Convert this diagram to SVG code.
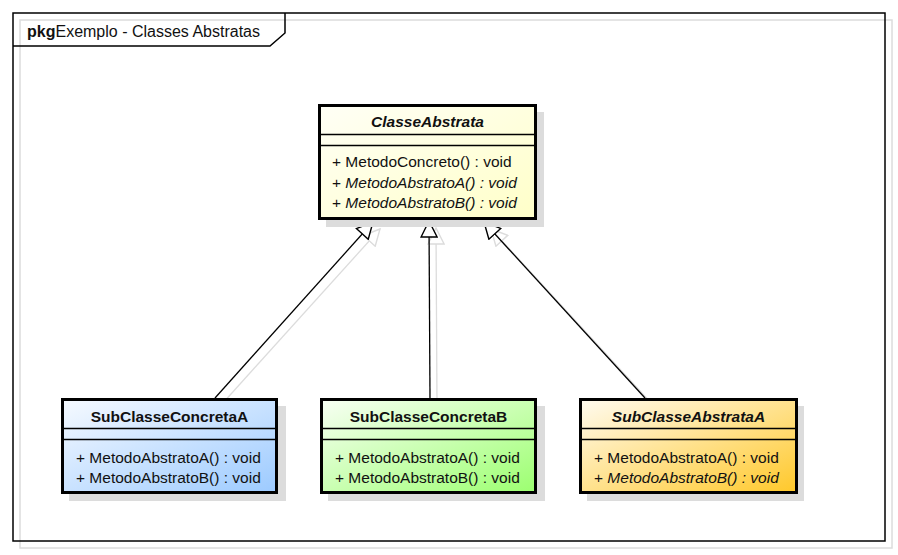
<svg xmlns="http://www.w3.org/2000/svg" width="898" height="555" viewBox="0 0 898 555">
<style>
text{font-family:"Liberation Sans",Arial,sans-serif;fill:#111}
.t{font-size:15.5px;font-weight:bold;text-anchor:middle}
.m{font-size:15.5px}
.i{font-style:italic}
.box{stroke:#000;stroke-width:3}
.sh{fill:#dcdcdc}
.sep{stroke:#000;stroke-width:1.5}
.con{stroke:#000;stroke-width:1.3;fill:none}
.csh{stroke:#dcdcdc;stroke-width:1.3;fill:none}
</style>
<defs>
<linearGradient id="gY" x1="0" y1="0" x2="1" y2="1"><stop offset="0" stop-color="#FFFFF6"/><stop offset="1" stop-color="#FFFFC8"/></linearGradient>
<linearGradient id="gB" x1="0" y1="0" x2="1" y2="1"><stop offset="0" stop-color="#F6FAFF"/><stop offset="1" stop-color="#9CCAFF"/></linearGradient>
<linearGradient id="gG" x1="0" y1="0" x2="1" y2="1"><stop offset="0" stop-color="#F8FFF4"/><stop offset="1" stop-color="#9CFF70"/></linearGradient>
<linearGradient id="gO" x1="0" y1="0" x2="1" y2="1"><stop offset="0" stop-color="#FFFBF0"/><stop offset="1" stop-color="#FFC82A"/></linearGradient>
<marker id="tri" viewBox="-1 -1 18 18" refX="16" refY="8" markerWidth="18" markerHeight="18" markerUnits="userSpaceOnUse" orient="auto"><path d="M0,0 L16,8 L0,16 Z" fill="#fff" stroke="#000" stroke-width="1.4"/></marker>
<marker id="triS" viewBox="-1 -1 18 18" refX="16" refY="8" markerWidth="18" markerHeight="18" markerUnits="userSpaceOnUse" orient="auto"><path d="M0,0 L16,8 L0,16 Z" fill="#fff" stroke="#dcdcdc" stroke-width="1.4"/></marker>
</defs>
<rect width="898" height="555" fill="#fff"/>
<g id="frame">
<rect x="20" y="20" width="872" height="528" fill="none" stroke="#dcdcdc" stroke-width="1.5"/>
<rect x="13" y="13" width="872" height="528" fill="none" stroke="#000" stroke-width="1.5"/>
<path d="M13,46 L270,46 L285,33 L285,13" fill="none" stroke="#000" stroke-width="1.5"/>
<text x="27" y="37" style="font-size:16px"><tspan font-weight="bold">pkg</tspan>Exemplo - Classes Abstratas</text>
</g>
<g id="connectors">
<line x1="222" y1="404" x2="380" y2="229" class="csh" marker-end="url(#triS)"/>
<line x1="437" y1="404" x2="436" y2="228" class="csh" marker-end="url(#triS)"/>
<line x1="652" y1="404" x2="491" y2="229" class="csh" marker-end="url(#triS)"/>
<line x1="215" y1="398" x2="373" y2="222" class="con" marker-end="url(#tri)"/>
<line x1="430" y1="398" x2="429" y2="221" class="con" marker-end="url(#tri)"/>
<line x1="645" y1="398" x2="484" y2="222" class="con" marker-end="url(#tri)"/>
</g>
<g id="ClasseAbstrata">
<rect x="326" y="112" width="218" height="115" class="sh"/>
<rect x="319.5" y="105.5" width="216" height="113" fill="url(#gY)" class="box"/>
<line x1="319.5" y1="134.5" x2="535.5" y2="134.5" class="sep"/>
<line x1="319.5" y1="145.5" x2="535.5" y2="145.5" class="sep"/>
<text x="427.5" y="127" class="t i">ClasseAbstrata</text>
<text x="332" y="167" class="m">+ MetodoConcreto() : void</text>
<text x="332" y="188" class="m">+ <tspan class="i">MetodoAbstratoA() : void</tspan></text>
<text x="332" y="208" class="m">+ <tspan class="i">MetodoAbstratoB() : void</tspan></text>
</g>
<g id="SubClasseConcretaA">
<rect x="69" y="406" width="217" height="95" class="sh"/>
<rect x="62.5" y="399.5" width="214" height="93" fill="url(#gB)" class="box"/>
<line x1="62.5" y1="428.5" x2="276.5" y2="428.5" class="sep"/>
<line x1="62.5" y1="439.5" x2="276.5" y2="439.5" class="sep"/>
<text x="169.5" y="422" class="t">SubClasseConcretaA</text>
<text x="76" y="463" class="m">+ MetodoAbstratoA() : void</text>
<text x="76" y="483" class="m">+ MetodoAbstratoB() : void</text>
</g>
<g id="SubClasseConcretaB">
<rect x="328" y="406" width="217" height="95" class="sh"/>
<rect x="321.5" y="399.5" width="214" height="93" fill="url(#gG)" class="box"/>
<line x1="321.5" y1="428.5" x2="535.5" y2="428.5" class="sep"/>
<line x1="321.5" y1="439.5" x2="535.5" y2="439.5" class="sep"/>
<text x="428.5" y="422" class="t">SubClasseConcretaB</text>
<text x="335" y="463" class="m">+ MetodoAbstratoA() : void</text>
<text x="335" y="483" class="m">+ MetodoAbstratoB() : void</text>
</g>
<g id="SubClasseAbstrataA">
<rect x="587" y="406" width="217" height="95" class="sh"/>
<rect x="580.5" y="399.5" width="216" height="93" fill="url(#gO)" class="box"/>
<line x1="580.5" y1="428.5" x2="796.5" y2="428.5" class="sep"/>
<line x1="580.5" y1="439.5" x2="796.5" y2="439.5" class="sep"/>
<text x="688.5" y="422" class="t i">SubClasseAbstrataA</text>
<text x="594" y="463" class="m">+ MetodoAbstratoA() : void</text>
<text x="594" y="483" class="m">+ <tspan class="i">MetodoAbstratoB() : void</tspan></text>
</g>
</svg>
